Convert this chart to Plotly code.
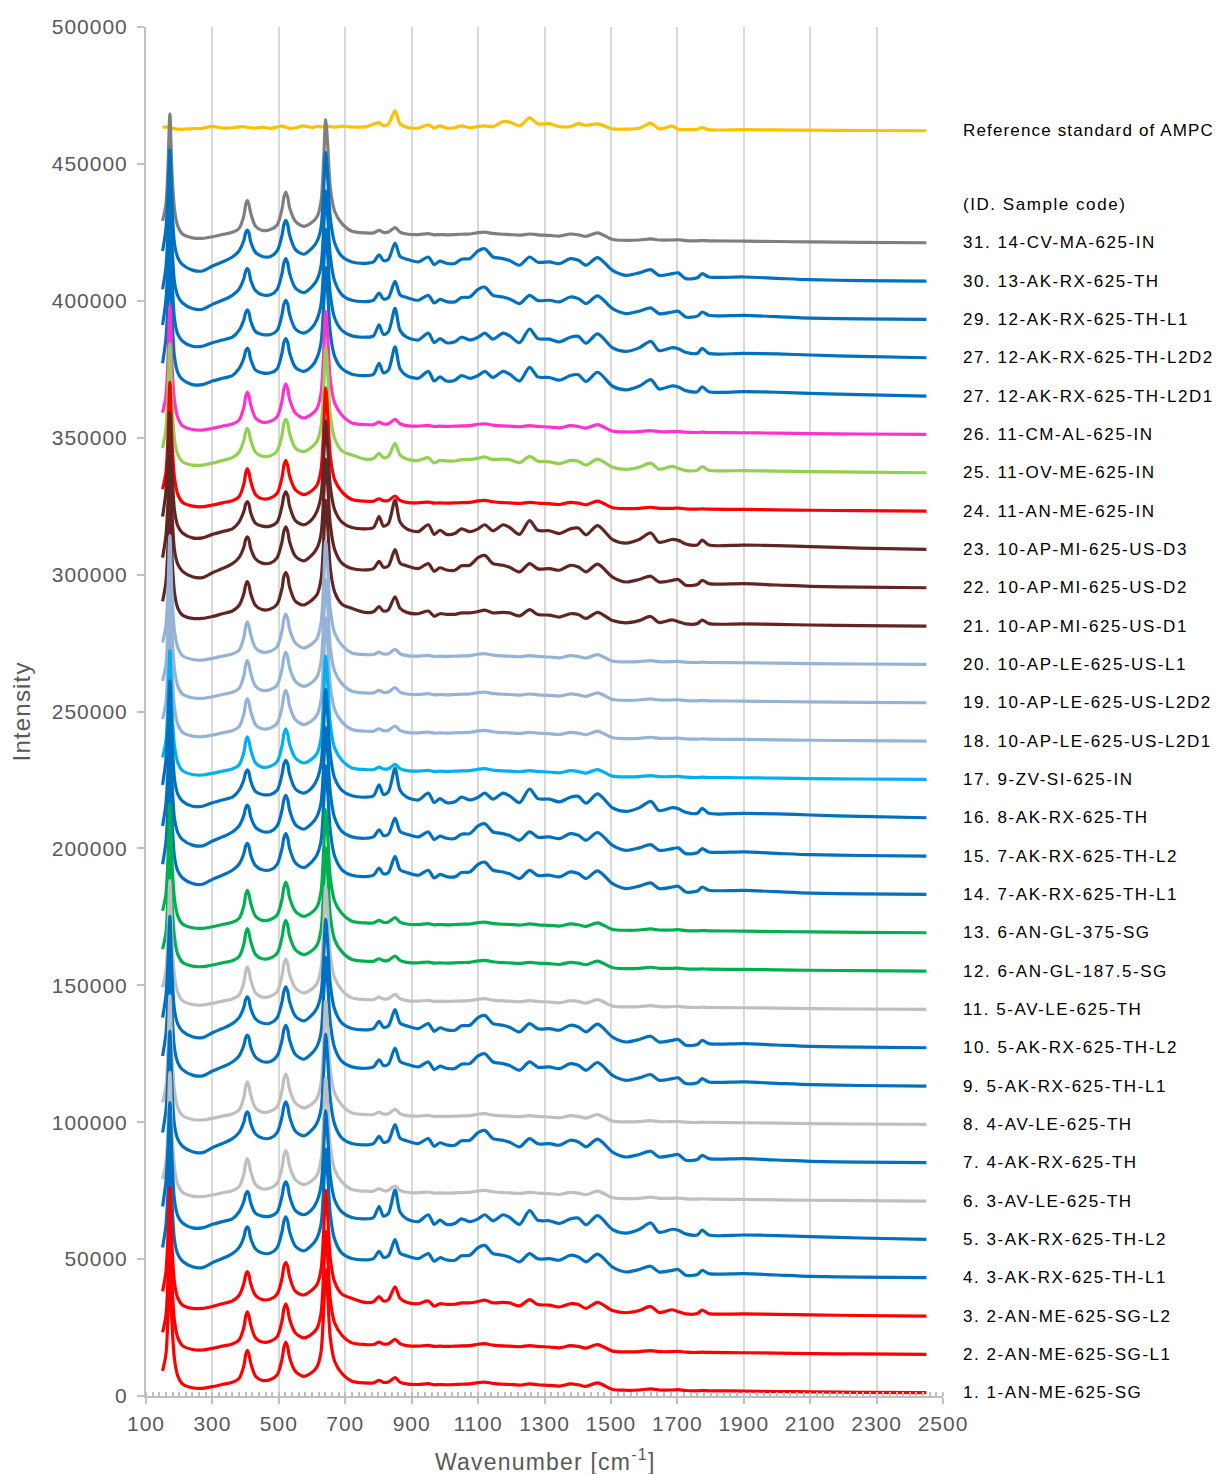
import plotly.graph_objects as go

# ---------------- data ----------------
wavenumber = [150, 160, 166, 172, 178, 186, 196, 210,
              240, 270, 300, 330, 360, 380, 395, 400, 405, 410, 415, 430,
              450, 475, 495, 510, 515, 521, 527, 532, 550, 575, 600, 615,
              627, 635, 641, 647, 655, 668, 690, 720, 760, 785,
              802, 815, 830, 850, 865, 885, 920, 950, 968, 985,
              1005, 1030, 1050, 1075, 1100, 1120, 1145, 1175, 1195, 1225,
              1255, 1280, 1315, 1345, 1378, 1402, 1425, 1460, 1505, 1545,
              1585, 1620, 1645, 1685, 1703, 1725, 1760, 1775, 1795, 1900,
              2000, 2100, 2250, 2450]

# intensity above each spectrum's end level (weak fine structure: grey / red 1 type)
weak_profile = [8000, 14000, 27000, 47000, 26000, 12000, 6000, 3200,
                1800, 1600, 2200, 3000, 3800, 5200, 10000, 13800, 15500, 14000, 11000, 6000,
                4500, 4800, 6500, 12500, 16500, 18500, 16500, 13000, 7800, 6000, 7500, 9500,
                15000, 30000, 45000, 36000, 20000, 11500, 7000, 4200, 3600, 3600,
                4500, 3800, 3900, 5500, 3900, 3200, 3000, 3300, 2900, 3000,
                2900, 3000, 3100, 3200, 3700, 3900, 3400, 3100, 3000, 2800,
                3200, 2900, 2700, 2400, 3200, 2900, 2300, 3600, 1200, 900,
                1000, 1400, 1000, 1000, 1100, 800, 700, 800, 700, 600,
                450, 300, 150, 0]

# moderate fine structure (blue 30 type)
moderate_profile = [11000, 19000, 31000, 48000, 28000, 13500, 8500, 6000,
                    4000, 3700, 5500, 7000, 8800, 11000, 15000, 17600, 18600, 17600, 14500, 10500,
                    9000, 9000, 11000, 17000, 20500, 22200, 20500, 17000, 11500, 9800, 12000, 14500,
                    19500, 33000, 47000, 38000, 23000, 14000, 9000, 7000, 6500, 7000,
                    9600, 7500, 8000, 13900, 9000, 8000, 7000, 8800, 6000, 7300,
                    6500, 6400, 8000, 8200, 11000, 11800, 8800, 8200, 7500, 5800,
                    8800, 6900, 7000, 6400, 8200, 7600, 5800, 8600, 3900, 2100,
                    3000, 4200, 2100, 2700, 3000, 900, 1200, 2700, 1500, 1500,
                    1000, 500, 200, 0]

# strong AMPC-like fine structure (blue 5 type)
rich_profile = [12000, 21000, 33000, 50000, 30000, 14000, 8500, 6000,
                4200, 4200, 5500, 6500, 7500, 10000, 14000, 16500, 17500, 16500, 13500, 9500,
                8500, 8500, 10000, 16000, 19500, 21000, 19500, 16000, 10500, 9000, 11000, 14000,
                19500, 33000, 47000, 38000, 23000, 14500, 10000, 8000, 7500, 8000,
                12000, 8500, 9500, 18000, 10000, 7500, 6500, 9000, 5500, 7000,
                5500, 5800, 7500, 6500, 7500, 9000, 6800, 9000, 8000, 5500,
                10500, 7000, 6800, 5800, 7500, 7800, 5300, 8700, 3600, 2300,
                3600, 6000, 2600, 3700, 3300, 2000, 1600, 3400, 1600, 1600,
                1400, 1000, 500, 0]

# medium AMPC-like fine structure (red 3 type)
richmid_profile = [9000, 16000, 29000, 47000, 26000, 12000, 6500, 4000,
                   2800, 2800, 3500, 4500, 5500, 7500, 12000, 15000, 16200, 15000, 12000, 7500,
                   6000, 6200, 8000, 14000, 18000, 19500, 18000, 14500, 9000, 7700, 9500, 11500,
                   17000, 31000, 46000, 37000, 21000, 12500, 8000, 6500, 5000, 5200,
                   7100, 5500, 6000, 10700, 6500, 5000, 4500, 5500, 3600, 4500,
                   4300, 4300, 4800, 4800, 5300, 5800, 4800, 5000, 4800, 3700,
                   6000, 4200, 4000, 3300, 4500, 4200, 2800, 5000, 2000, 1200,
                   2000, 3500, 1300, 2300, 1600, 800, 900, 2200, 900, 800,
                   600, 400, 200, 0]

# reference standard of AMPC
ampc_profile = [1500, 1300, 1400, 1100, 900, 800, 600, 500,
                800, 900, 1600, 1000, 1100, 1400, 1500, 1400, 1300, 1200, 1100, 1000,
                1300, 900, 1400, 1800, 1600, 1300, 1100, 900, 1100, 1800, 1200, 1600,
                1400, 1500, 1300, 1700, 1500, 1300, 1700, 1400, 1400, 2400,
                3000, 1800, 2500, 7300, 2500, 1300, 1000, 2200, 1000, 1800,
                1000, 1100, 1800, 1100, 1600, 1800, 1500, 3400, 3200, 1800,
                4700, 2500, 2600, 1500, 1500, 2600, 2000, 2500, 700, 600,
                900, 2800, 700, 1700, 500, 400, 500, 1200, 400, 400,
                300, 200, 100, 0]
ampc_end = 462100

sample_labels = [
    "1. 1-AN-ME-625-SG", "2. 2-AN-ME-625-SG-L1", "3. 2-AN-ME-625-SG-L2",
    "4. 3-AK-RX-625-TH-L1", "5. 3-AK-RX-625-TH-L2", "6. 3-AV-LE-625-TH",
    "7. 4-AK-RX-625-TH", "8. 4-AV-LE-625-TH", "9. 5-AK-RX-625-TH-L1",
    "10. 5-AK-RX-625-TH-L2", "11. 5-AV-LE-625-TH", "12. 6-AN-GL-187.5-SG",
    "13. 6-AN-GL-375-SG", "14. 7-AK-RX-625-TH-L1", "15. 7-AK-RX-625-TH-L2",
    "16. 8-AK-RX-625-TH", "17. 9-ZV-SI-625-IN", "18. 10-AP-LE-625-US-L2D1",
    "19. 10-AP-LE-625-US-L2D2", "20. 10-AP-LE-625-US-L1", "21. 10-AP-MI-625-US-D1",
    "22. 10-AP-MI-625-US-D2", "23. 10-AP-MI-625-US-D3", "24. 11-AN-ME-625-IN",
    "25. 11-OV-ME-625-IN", "26. 11-CM-AL-625-IN", "27. 12-AK-RX-625-TH-L2D1",
    "27. 12-AK-RX-625-TH-L2D2", "29. 12-AK-RX-625-TH-L1", "30. 13-AK-RX-625-TH",
    "31. 14-CV-MA-625-IN",
]

sample_colors = [
    "#FF0000", "#FF0000", "#FF0000", "#0070C0", "#0070C0", "#BFBFBF",
    "#0070C0", "#BFBFBF", "#0070C0", "#0070C0", "#BFBFBF", "#00B050",
    "#00B050", "#0070C0", "#0070C0", "#0070C0", "#00B0F0", "#95B3D7",
    "#95B3D7", "#95B3D7", "#632523", "#632523", "#632523", "#FF0000",
    "#92D050", "#FF33CC", "#0070C0", "#0070C0", "#0070C0", "#0070C0",
    "#7F7F7F",
]

sample_profiles = [
    "weak", "weak", "richmid", "moderate", "rich", "weak",
    "moderate", "weak", "moderate", "moderate", "weak", "weak",
    "weak", "moderate", "moderate", "rich", "weak", "weak",
    "weak", "weak", "richmid", "moderate", "rich", "weak",
    "richmid", "weak", "rich", "rich", "moderate", "moderate",
    "weak",
]

end_intensity = [
    1200, 15200, 29200, 43200, 57200, 71200, 85200, 99200, 113200, 127200,
    141200, 155200, 169200, 183200, 197200, 211200, 225200, 239200, 253200, 267200,
    281200, 295200, 309200, 323200, 337200, 351200, 365200, 379200, 393200, 407200,
    421200,
]

header_label = "(ID. Sample code)"
header_level = 435300
ampc_label = "Reference standard of AMPC"
ampc_label_level = 462300

x_tick_values = list(range(100, 2501, 200))
y_tick_values = list(range(0, 500001, 50000))

# ---------------- figure ----------------
profiles = {
    "weak": weak_profile,
    "moderate": moderate_profile,
    "rich": rich_profile,
    "richmid": richmid_profile,
}
for p in list(profiles.values()) + [ampc_profile]:
    assert len(p) == len(wavenumber)

LS = "letter-spacing:1.55px"
def spaced(t, ls=LS):
    return '<span style="%s">%s</span>' % (ls, t)

fig = go.Figure()

fig.add_trace(go.Scatter(
    x=wavenumber, y=[ampc_end + v for v in ampc_profile],
    mode="lines", name=ampc_label,
    line=dict(color="#FFC000", width=3.2, shape="spline", smoothing=0.8),
))

for k in reversed(range(len(sample_labels))):
    prof = profiles[sample_profiles[k]]
    fig.add_trace(go.Scatter(
        x=wavenumber, y=[end_intensity[k] + v for v in prof],
        mode="lines", name=sample_labels[k],
        line=dict(color=sample_colors[k], width=3.2, shape="spline", smoothing=0.8),
    ))

FONT = "Liberation Sans, Arial, sans-serif"
axis_grey = "#595959"
label_font = dict(family=FONT, size=17, color="#000000")
annotations = []
for k, lab in enumerate(sample_labels):
    annotations.append(dict(
        x=1, xref="paper", y=end_intensity[k], yref="y",
        text=spaced(lab), showarrow=False, xanchor="left", yanchor="middle",
        xshift=18, font=label_font,
    ))
annotations.append(dict(x=1, xref="paper", y=header_level, yref="y",
                        text=spaced(header_label), showarrow=False, xanchor="left",
                        yanchor="middle", xshift=18, font=label_font))
annotations.append(dict(x=1, xref="paper", y=ampc_label_level, yref="y",
                        text=spaced(ampc_label, "letter-spacing:1.15px"), showarrow=False,
                        xanchor="left", yanchor="middle", xshift=18, font=label_font))
# axis titles
annotations.append(dict(x=0.5, xref="paper", y=0, yref="paper", yshift=-64,
                        text=spaced("Wavenumber [cm<sup>-1</sup>]", "letter-spacing:1.2px"),
                        showarrow=False, xanchor="center", yanchor="middle",
                        font=dict(family=FONT, size=23, color=axis_grey)))
annotations.append(dict(x=-0.1556, xref="paper", y=0.5, yref="paper", textangle=-90,
                        text=spaced("Intensity", "letter-spacing:1.2px"),
                        showarrow=False, xanchor="center", yanchor="middle",
                        font=dict(family=FONT, size=24, color=axis_grey)))

tick_font = dict(family=FONT, size=21, color=axis_grey)

# the page places the figure 8 px from the top-left corner
fig.update_layout(
    width=1216, height=1466,
    margin=dict(l=138, r=281, t=19, b=78),
    paper_bgcolor="white", plot_bgcolor="white",
    showlegend=False,
    annotations=annotations,
    xaxis=dict(
        range=[100, 2500], automargin=False,
        tickmode="array", tickvals=x_tick_values,
        ticktext=[spaced(str(v), "letter-spacing:1px") for v in x_tick_values],
        tickfont=tick_font,
        ticks="outside", ticklen=6, tickwidth=1.5, tickcolor="#BFBFBF",
        showgrid=True, gridcolor="#D9D9D9", gridwidth=2,
        showline=True, linecolor="#BFBFBF", linewidth=2,
        zeroline=False,
        minor=dict(ticks="inside", tick0=100, dtick=20, ticklen=4,
                   tickwidth=1.5, tickcolor="#BFBFBF", showgrid=False),
        ticklabelstandoff=2,
    ),
    yaxis=dict(
        range=[0, 500000], automargin=False,
        tickmode="array", tickvals=y_tick_values,
        ticktext=[spaced(str(v), "letter-spacing:1px") for v in y_tick_values],
        tickfont=tick_font,
        ticks="outside", ticklen=7, tickwidth=1.5, tickcolor="#BFBFBF",
        showgrid=False,
        showline=True, linecolor="#BFBFBF", linewidth=2,
        zeroline=False,
        ticklabelstandoff=5,
    ),
)

fig.write_html("out.html")
